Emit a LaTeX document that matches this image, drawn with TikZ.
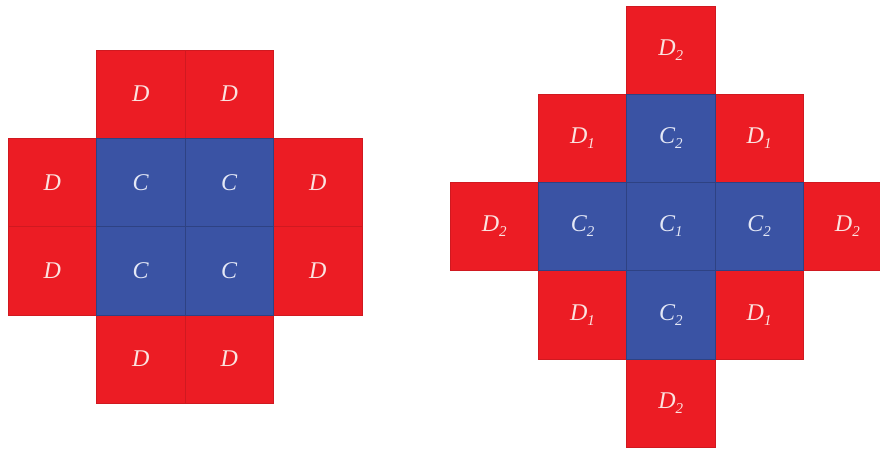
\documentclass[tikz,border=0pt]{standalone}
\usepackage{fontspec}
\setmainfont{Liberation Serif}
\definecolor{cred}{HTML}{EC1C24}
\definecolor{cblue}{HTML}{3A53A4}
\definecolor{labred}{HTML}{FBE3E0}
\definecolor{labblue}{HTML}{E4E8F6}
\tikzset{
  cell/.style={minimum width=88.5pt, minimum height=88.3pt, inner sep=0pt, line width=0.6pt,
    font=\fontsize{24}{24}\selectfont\itshape},
  dcell/.style={cell, fill=cred, draw=cred!88!black, text=labred},
  ccell/.style={cell, fill=cblue, draw=cblue!80!black, text=labblue}
}
\newcommand{\lab}[2]{#1\raisebox{-0.45ex}{\fontsize{15}{15}\selectfont #2}}
\begin{document}
\begin{tikzpicture}[x=1pt,y=-1pt]
\useasboundingbox (0,0) rectangle (880,450);
\clip (0,0) rectangle (880,450);
% left figure
\node[dcell] (l12) at (140.75,94.1) {D};
\node[dcell] (l13) at (229.25,94.1) {D};
\node[dcell] (l21) at (52.25,182.4) {D};
\node[dcell] (l24) at (317.75,182.4) {D};
\node[dcell] (l31) at (52.25,270.7) {D};
\node[dcell] (l34) at (317.75,270.7) {D};
\node[dcell] (l42) at (140.75,359) {D};
\node[dcell] (l43) at (229.25,359) {D};
\node[ccell] (l22) at (140.75,182.4) {C};
\node[ccell] (l23) at (229.25,182.4) {C};
\node[ccell] (l32) at (140.75,270.7) {C};
\node[ccell] (l33) at (229.25,270.7) {C};
% right figure
\node[dcell] (r13) at (670.8,50.1) {\lab{D}{2}};
\node[dcell] (r22) at (582.5,138.3) {\lab{D}{1}};
\node[dcell] (r24) at (759.1,138.3) {\lab{D}{1}};
\node[dcell] (r31) at (494.2,226.5) {\lab{D}{2}};
\node[dcell] (r35) at (847.4,226.5) {\lab{D}{2}};
\node[dcell] (r42) at (582.5,314.7) {\lab{D}{1}};
\node[dcell] (r44) at (759.1,314.7) {\lab{D}{1}};
\node[dcell] (r53) at (670.8,402.9) {\lab{D}{2}};
\node[ccell] (r23) at (670.8,138.3) {\lab{C}{2}};
\node[ccell] (r32) at (582.5,226.5) {\lab{C}{2}};
\node[ccell] (r33) at (670.8,226.5) {\lab{C}{1}};
\node[ccell] (r34) at (759.1,226.5) {\lab{C}{2}};
\node[ccell] (r43) at (670.8,314.7) {\lab{C}{2}};
\end{tikzpicture}
\end{document}
